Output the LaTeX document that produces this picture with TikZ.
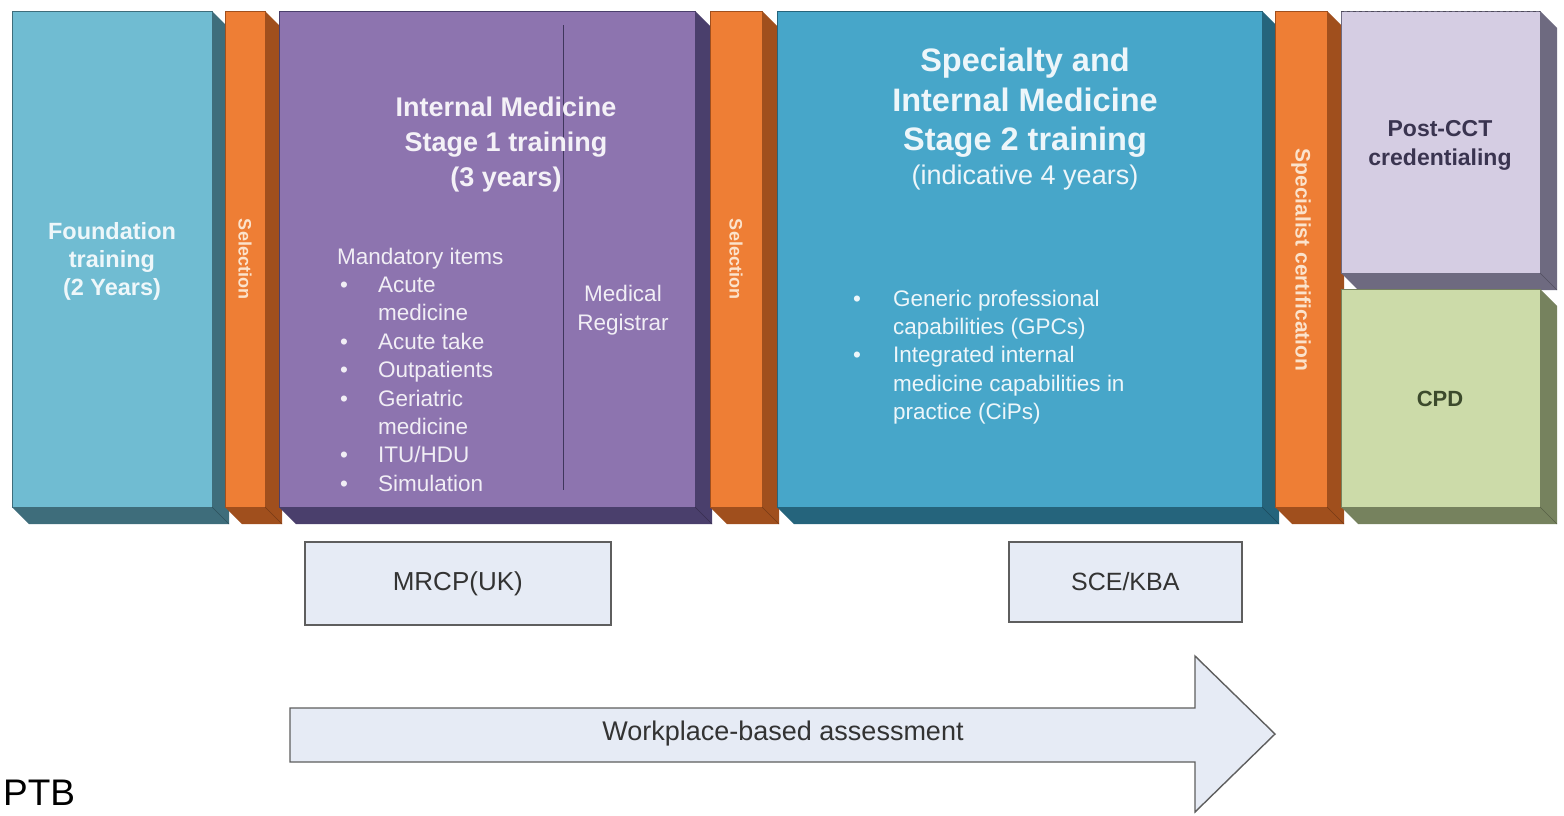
\documentclass[tikz,border=0pt]{standalone}
\usepackage{fontspec}
\setmainfont{Liberation Sans}
\usepackage{array}
\definecolor{cFdn}{HTML}{70BCD2}
\definecolor{dFdn}{HTML}{3E6D7B}
\definecolor{cOr}{HTML}{EE7E35}
\definecolor{dOr}{HTML}{A04F1D}
\definecolor{cPu}{HTML}{8D74AF}
\definecolor{dPu}{HTML}{4A3F6C}
\definecolor{cBl}{HTML}{47A6C9}
\definecolor{dBl}{HTML}{25647C}
\definecolor{cLv}{HTML}{D5CDE3}
\definecolor{dLv}{HTML}{6E6A80}
\definecolor{cGr}{HTML}{CCDBA9}
\definecolor{dGr}{HTML}{76825E}
\definecolor{cEx}{HTML}{E6EBF5}
\definecolor{bEx}{HTML}{5E5E5E}
\definecolor{tEx}{HTML}{333333}
\definecolor{tPost}{HTML}{3A3450}
\definecolor{tCpd}{HTML}{3C4A2C}
\definecolor{tSel}{HTML}{FBE3CC}
\def\dep{17}
\newcommand\extbox[7]{%
  \node[front, draw=#7, fill=#6, minimum width=#4pt, minimum height=#5pt] (#1) at (#2,#3) {};
  \fill[#7] (#1.north east) -- ([shift={(\dep,\dep)}]#1.north east)
    -- ([shift={(\dep,\dep)}]#1.south east) -- ([shift={(\dep,\dep)}]#1.south west)
    -- (#1.south west) -- (#1.south east) -- cycle;
  \draw[#7!75!black, line width=0.5pt] (#1.south east) -- ([shift={(\dep,\dep)}]#1.south east);
}
\begin{document}
\begin{tikzpicture}[x=1pt,y=-1pt,
  front/.style={inner sep=0pt, outer sep=0pt, anchor=north west, line width=0.6pt},
  boldtxt/.style={align=center, inner sep=0pt},
  seltxt/.style={font=\bfseries\fontsize{#1}{#1}\selectfont, rotate=-90, inner sep=0pt, text=tSel},
  bodytxt/.style={font=\fontsize{22.5}{28.4}\selectfont, inner sep=0pt},
  exam/.style={draw=bEx, line width=1.6pt, fill=cEx, inner sep=0pt, anchor=north west,
    font=\fontsize{26}{30}\selectfont, text=tEx}
]
\useasboundingbox (0,0) rectangle (1564,815);
\fill[white] (0,0) rectangle (1564,815);

% 3D blocks
\extbox{fdn}{12}{11}{200}{496}{cFdn}{dFdn}
\extbox{sel1}{225}{11}{40}{496}{cOr}{dOr}
\extbox{im1}{279}{11}{416}{496}{cPu}{dPu}
\extbox{sel2}{710}{11}{52}{496}{cOr}{dOr}
\extbox{im2}{777}{11}{485}{496}{cBl}{dBl}
\extbox{spec}{1275}{11}{52}{496}{cOr}{dOr}
\extbox{pcct}{1341}{11}{199}{262}{cLv}{dLv}
\draw[dashed, dLv!70!black, line width=0.8pt] (pcct.north west) -- (pcct.north east);
\extbox{cpd}{1341}{289}{199}{218}{cGr}{dGr}

% divider in stage 1 block
\draw[dPu!85!black, line width=0.6pt] (563,25) -- (563,490);

% texts in blocks
\node[boldtxt, text=white!88!cFdn, font=\bfseries\fontsize{23.5}{28}\selectfont] (fdnt) at (112,261) {Foundation\\training\\(2 Years)};
\node[seltxt=18] (sel1t) at (245,259) {Selection};
\node[seltxt=18] (sel2t) at (736,259) {Selection};
\node[seltxt=21] (spect) at (1301,260) {Specialist certification};

\node[boldtxt, text=white!90!cPu, font=\bfseries\fontsize{27}{35}\selectfont] (im1t) at (506,145) {Internal Medicine\\Stage 1 training\\(3 years)};
\node[bodytxt, text=white!88!cPu, anchor=base west] (mand) at (337,264)
  {\begin{tabular}[t]{@{}>{\hspace{3pt}}p{41pt}@{}l@{}}
   \multicolumn{2}{@{}l@{}}{Mandatory items}\\
   \textbullet & Acute\\
   & medicine\\
   \textbullet & Acute take\\
   \textbullet & Outpatients\\
   \textbullet & Geriatric\\
   & medicine\\
   \textbullet & ITU/HDU\\
   \textbullet & Simulation
   \end{tabular}};
\node[bodytxt, text=white!88!cPu, align=center] (reg) at (623,310) {Medical\\Registrar};

\node[boldtxt, text=white!90!cBl, font=\bfseries\fontsize{32.5}{39.5}\selectfont] (im2t) at (1025,103) {Specialty and\\Internal Medicine\\Stage 2 training};
\node[inner sep=0pt, text=white!90!cBl, font=\fontsize{27}{30}\selectfont] (im2s) at (1025,178) {(indicative 4 years)};
\node[bodytxt, text=white!90!cBl, anchor=base west] (caps) at (853,306)
  {\begin{tabular}[t]{@{}p{40pt}@{}l@{}}
   \textbullet & Generic professional\\
   & capabilities (GPCs)\\
   \textbullet & Integrated internal\\
   & medicine capabilities in\\
   & practice (CiPs)
   \end{tabular}};

\node[boldtxt, text=tPost, font=\bfseries\fontsize{23}{29}\selectfont] (pcctt) at (1440,145) {Post-CCT\\credentialing};
\node[boldtxt, text=tCpd, font=\bfseries\fontsize{22}{26}\selectfont] (cpdt) at (1440,399) {CPD};

% exams
\node[exam, minimum width=306pt, minimum height=83pt] (mrcp) at (304,541) {MRCP(UK)};
\node[exam, minimum width=233pt, minimum height=80pt, font=\fontsize{25}{30}\selectfont] (sce) at (1008,541) {SCE/KBA};

% workplace-based assessment arrow
\draw[bEx, line width=1.4pt, fill=cEx, line join=miter]
  (290,708) -- (1195,708) -- (1195,656) -- (1275,734) -- (1195,812) -- (1195,762) -- (290,762) -- cycle;
\node[inner sep=0pt, text=tEx, font=\fontsize{27}{30}\selectfont] (wba) at (783,734) {Workplace-based assessment};

% stray label
\node[inner sep=0pt, anchor=base west, font=\fontsize{37}{37}\selectfont] (ptb) at (3,805) {PTB};
\end{tikzpicture}
\end{document}
